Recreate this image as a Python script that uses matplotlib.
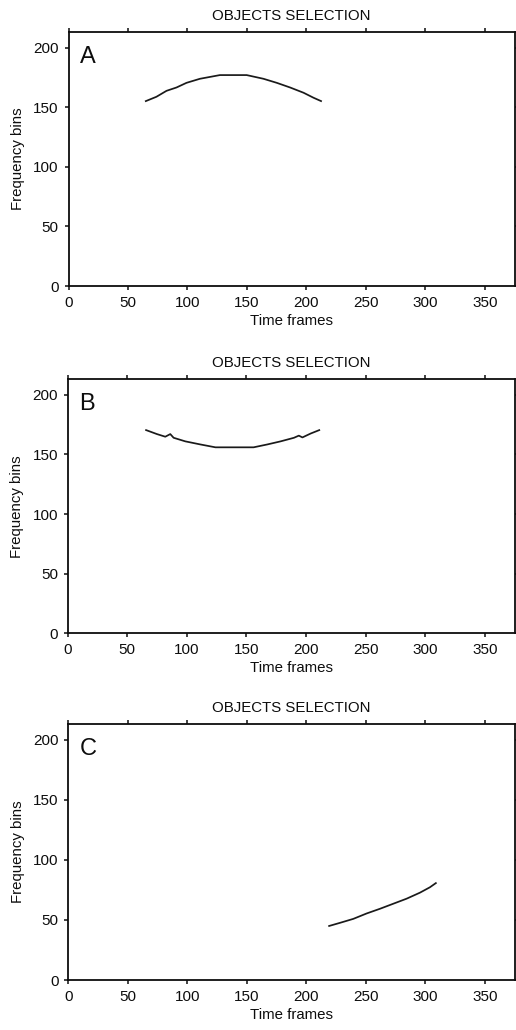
import matplotlib
matplotlib.use("Agg")
import matplotlib.pyplot as plt

plt.rcParams['font.family'] = ['Liberation Sans', 'DejaVu Sans']

# Ridge tracks (time frame, frequency bin) for the three selected objects
a_frames = [64.3, 73.9, 82.4, 90.8, 99.2, 110.5, 127.3, 138.6, 149.8, 163.9, 175.1, 186.3, 197.6, 206.0, 213.0]
a_bins = [154.8, 158.7, 163.7, 166.5, 170.4, 173.8, 176.9, 176.9, 176.9, 173.8, 170.4, 166.5, 162.1, 157.9, 154.8]

b_frames = [65.1, 74.9, 81.9, 86.1, 88.9, 98.7, 111.4, 124.0, 139.4, 156.0, 167.5, 178.7, 189.9, 194.0, 197.0, 204.0, 211.8]
b_bins = [170.7, 167.1, 164.9, 167.1, 164.0, 161.0, 158.4, 156.0, 156.0, 156.0, 158.4, 161.0, 164.0, 165.8, 164.3, 167.6, 170.7]

c_frames = [218.5, 228.3, 239.5, 250.7, 261.9, 273.1, 284.3, 295.5, 303.9, 309.5]
c_bins = [44.8, 47.6, 50.9, 55.4, 59.3, 63.5, 67.7, 72.7, 77.2, 81.1]

panel_letters = ["A", "B", "C"]
x_ticks = [0, 50, 100, 150, 200, 250, 300, 350]
y_ticks = [0, 50, 100, 150, 200]
title_text = "OBJECTS SELECTION"
x_label = "Time frames"
y_label = "Frequency bins"

ink = "#0d0d0d"

fig = plt.figure(figsize=(5.16, 10.30), dpi=100)

# axes rectangles: left, bottom, width, height (figure fraction)
rects = [
    [0.1328, 0.7223, 0.8643, 0.2466],
    [0.1312, 0.3851, 0.8659, 0.2466],
    [0.1324, 0.0485, 0.8647, 0.2485],
]
series = [(a_frames, a_bins), (b_frames, b_bins), (c_frames, c_bins)]

for rect, (xs, ys), letter in zip(rects, series, panel_letters):
    ax = fig.add_axes(rect)
    ax.plot(xs, ys, color="#1a1a1a", linewidth=1.25, solid_capstyle="butt")
    ax.set_xlim(0, 375)
    ax.set_ylim(0, 213)
    ax.set_xticks(x_ticks)
    ax.set_yticks(y_ticks)
    ax.tick_params(axis="both", which="both", direction="out", length=3,
                   width=1.1, labelsize=11, pad=4, colors=ink)
    ax.tick_params(top=True, right=True, labeltop=False, labelright=False)
    for sp in ax.spines.values():
        sp.set_linewidth(1.3)
        sp.set_color(ink)
    ax.set_title(title_text, fontsize=10.8, pad=9, color=ink)
    ax.set_xlabel(x_label, fontsize=10.8, labelpad=3, color=ink)
    ax.set_ylabel(y_label, fontsize=10.8, color=ink)
    ax.yaxis.set_label_coords(-0.097, 0.5)
    ax.text(0.025, 0.945, letter, transform=ax.transAxes, fontsize=17,
            ha="left", va="top", color=ink)

fig.savefig("out.png", dpi=100)
